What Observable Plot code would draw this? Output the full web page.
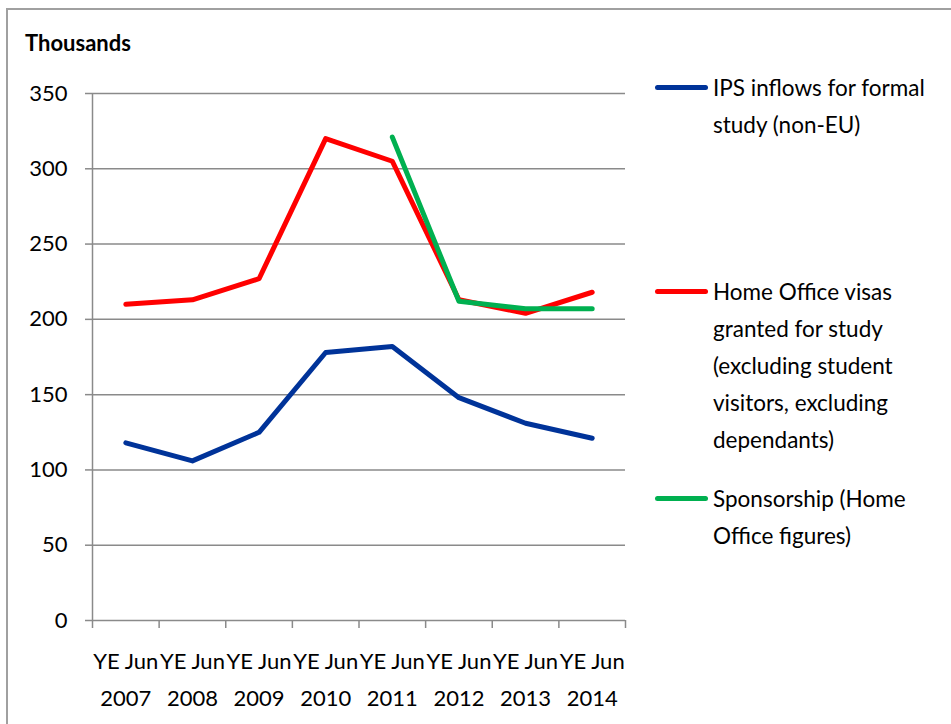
<!DOCTYPE html>
<html><head><meta charset="utf-8">
<script src="https://cdn.jsdelivr.net/npm/d3@7"></script>
<script src="https://cdn.jsdelivr.net/npm/@observablehq/plot@0.6"></script>
<style>
body{margin:0;background:#fff;font-family:Lato,"Open Sans",sans-serif;}
#wrap{position:relative;width:951px;height:724px;overflow:hidden;background:#fff;}
#frame{position:absolute;left:6px;top:8px;width:990px;height:780px;border:2px solid #a0a0a0;box-sizing:border-box;}
#chart{position:absolute;left:0;top:0;}
#title{position:absolute;left:25px;top:29px;font-weight:bold;font-size:22px;color:#000;}
.item{position:absolute;left:655px;}
.swatch{position:absolute;left:0;width:53px;height:5px;border-radius:3px;}
.label{position:absolute;left:58px;font-size:22.5px;line-height:37px;color:#000;white-space:nowrap;}
</style></head>
<body>
<div id="wrap">
  <div id="frame"></div>
  <div id="chart"></div>
  <div id="title">Thousands</div>
  <div id="legend"></div>
</div>
<script>
const categories = ["YE Jun\n2007","YE Jun\n2008","YE Jun\n2009","YE Jun\n2010","YE Jun\n2011","YE Jun\n2012","YE Jun\n2013","YE Jun\n2014"];
const ipsInflows = [118, 106, 125, 178, 182, 148, 131, 121];
const homeOfficeVisas = [210, 213, 227, 320, 305, 213, 204, 218];
const sponsorship = [null, null, null, null, 321, 212, 207, 207];
const yTicks = [0, 50, 100, 150, 200, 250, 300, 350];
const seriesNames = ["IPS inflows for formal<br>study (non-EU)", "Home Office visas<br>granted for study<br>(excluding student<br>visitors, excluding<br>dependants)", "Sponsorship (Home<br>Office figures)"];
const seriesColors = ["#003399", "#ff0000", "#00b050"];
const legendTops = [87, 291, 498];

const series = [ipsInflows, homeOfficeVisas, sponsorship];
const rows = [];
series.forEach((vals, s) => vals.forEach((v, i) => rows.push({series: s, cat: categories[i], value: v})));
const xpos = d => categories.indexOf(d.cat) + 0.5;
const grey = "#8a8a8a";

const plot = Plot.plot({
  width: 951, height: 724,
  marginLeft: 92, marginRight: 326, marginTop: 93, marginBottom: 104,
  style: {fontFamily: "Lato, 'Open Sans', sans-serif", fontSize: "22px", color: "#000", background: "transparent"},
  x: {type: "linear", domain: [0, categories.length], axis: null},
  y: {domain: [0, 350], axis: null},
  marks: [
    Plot.gridY(yTicks, {stroke: grey, strokeOpacity: 1, strokeWidth: 1.5}),
    Plot.ruleX([0], {stroke: grey, strokeWidth: 1.5}),
    Plot.axisY(yTicks, {tickSize: 7, tickPadding: 18, stroke: grey, strokeWidth: 1.5, fill: "#000", label: null}),
    Plot.axisX(d3.range(0, categories.length + 1), {tickSize: 8, stroke: grey, strokeWidth: 1.5, tickFormat: () => "", label: null}),
    Plot.axisX(categories.map((c, i) => i + 0.5), {tickSize: 0, tickPadding: 22, lineHeight: 1.68, tickFormat: v => categories[Math.floor(v)], fill: "#000", label: null}),
    ...series.map((vals, s) => Plot.line(rows.filter(r => r.series === s), {
      x: xpos, y: "value", stroke: seriesColors[s], strokeWidth: 5, strokeLinejoin: "round", strokeLinecap: "round"
    }))
  ]
});
document.getElementById("chart").appendChild(plot);

const legend = document.getElementById("legend");
seriesNames.forEach((name, s) => {
  const item = document.createElement("div");
  item.className = "item";
  item.style.top = legendTops[s] + "px";
  item.innerHTML = `<div class="swatch" style="background:${seriesColors[s]};top:-2.5px"></div><div class="label" style="top:-18.5px">${name}</div>`;
  legend.appendChild(item);
});
</script>
</body></html>
